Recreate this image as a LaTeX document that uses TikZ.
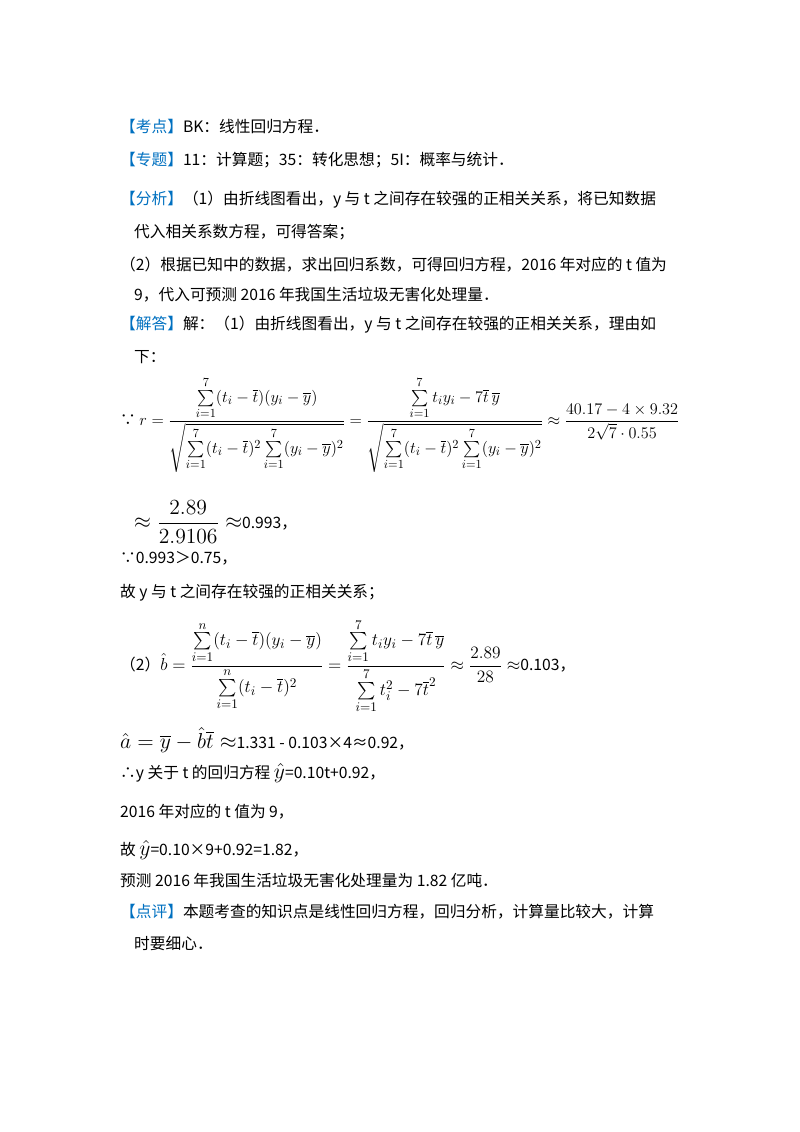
\documentclass[tikz,border=0pt]{standalone}
\usepackage{amsmath}
\usepackage{fontspec}
\setmainfont{Carlito}
\newfontfamily\cjk{Noto Sans CJK SC}
\definecolor{lab}{RGB}{0,112,192}
\newcommand{\bm}[1]{\scalebox{1.5}{#1}}
\begin{document}
\begin{tikzpicture}[x=1pt,y=-1pt,
  tx/.style={anchor=west,inner sep=0pt,font=\fontsize{15.7}{18}\selectfont\cjk}]
\useasboundingbox (0,0) rectangle (800,1132);
\node[tx] (l1) at (120,127) {{\color{lab}【考点】}BK：线性回归方程．};
\node[tx] (l2) at (120,160) {{\color{lab}【专题】}11：计算题；35：转化思想；5I：概率与统计．};
\node[tx] (l3) at (120,200) {{\color{lab}【分析】}（1）由折线图看出，y 与 t 之间存在较强的正相关关系，将已知数据};
\node[tx] (l4) at (134,232) {代入相关系数方程，可得答案；};
\node[tx] (l5) at (120,265) {（2）根据已知中的数据，求出回归系数，可得回归方程，2016 年对应的 t 值为};
\node[tx] (l6) at (134,295) {9，代入可预测 2016 年我国生活垃圾无害化处理量．};
\node[tx] (l7) at (120,325) {{\color{lab}【解答】}解：（1）由折线图看出，y 与 t 之间存在较强的正相关关系，理由如};
\node[tx] (l8) at (134,357) {下：};
\node[tx] (f1) at (120,425) {∵ \resizebox{540pt}{!}{$r=\dfrac{\sum\limits_{i=1}^{7}(t_i-\overline{t})(y_i-\overline{y})}{\sqrt{\sum\limits_{i=1}^{7}(t_i-\overline{t})^2\sum\limits_{i=1}^{7}(y_i-\overline{y})^2}}=\dfrac{\sum\limits_{i=1}^{7}t_iy_i-7\overline{t}\,\overline{y}}{\sqrt{\sum\limits_{i=1}^{7}(t_i-\overline{t})^2\sum\limits_{i=1}^{7}(y_i-\overline{y})^2}}\approx\dfrac{40.17-4\times9.32}{2\sqrt{7}\cdot0.55}$}};
\node[tx] (f2) at (134,522) {\bm{$\approx\dfrac{2.89}{2.9106}\approx$}0.993，};
\node[tx] (l9) at (120,558) {∵0.993＞0.75，};
\node[tx] (l10) at (120,593) {故 y 与 t 之间存在较强的正相关关系；};
\node[tx] (f3) at (120,666) {（2）\resizebox{360pt}{!}{$\hat{b}=\dfrac{\sum\limits_{i=1}^{n}(t_i-\overline{t})(y_i-\overline{y})}{\sum\limits_{i=1}^{n}(t_i-\overline{t})^2}=\dfrac{\sum\limits_{i=1}^{7}t_iy_i-7\overline{t}\,\overline{y}}{\sum\limits_{i=1}^{7}t_i^2-7\overline{t}^2}\approx\dfrac{2.89}{28}\approx$}0.103，};
\node[tx] (l11) at (120,740) {\bm{$\hat{a}=\overline{y}-\hat{b}\overline{t}\approx$}1.331 - 0.103×4≈0.92，};
\node[tx] (l12) at (120,773) {∴y 关于 t 的回归方程 \bm{$\hat{y}$}=0.10t+0.92，};
\node[tx] (l13) at (120,812) {2016 年对应的 t 值为 9，};
\node[tx] (l14) at (120,850) {故 \bm{$\hat{y}$}=0.10×9+0.92=1.82，};
\node[tx] (l15) at (120,880) {预测 2016 年我国生活垃圾无害化处理量为 1.82 亿吨．};
\node[tx] (l16) at (120,912) {{\color{lab}【点评】}本题考查的知识点是线性回归方程，回归分析，计算量比较大，计算};
\node[tx] (l17) at (134,943) {时要细心．};
\end{tikzpicture}
\end{document}
